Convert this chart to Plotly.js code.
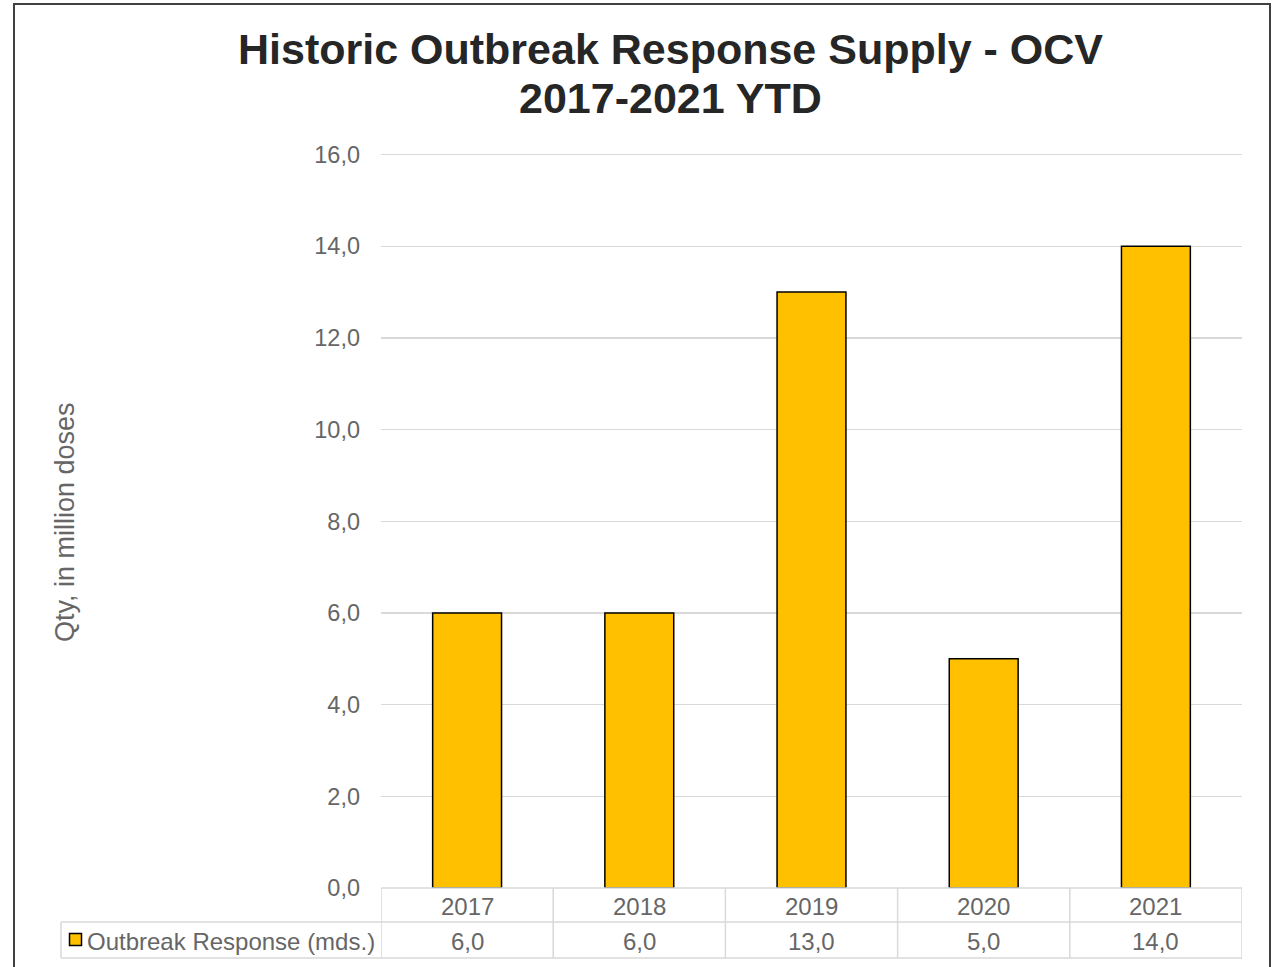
<!DOCTYPE html>
<html><head><meta charset="utf-8">
<script src="https://cdn.plot.ly/plotly-3.0.1.min.js"></script>
<style>html,body{margin:0;padding:0;background:#fff;}#chart{width:1281px;height:967px;}</style>
</head><body><div id="chart"></div>
<script>
const categories = ['2017','2018','2019','2020','2021'];
const values = [6, 6, 13, 5, 14];
const seriesName = 'Outbreak Response (mds.)';
const yTicks = [0,2,4,6,8,10,12,14,16];
const titleLines = ['Historic Outbreak Response Supply - OCV', '2017-2021 YTD'];
const yTitle = 'Qty, in million doses';

const fmt = v => v.toFixed(1).replace('.', ',');
const W = 1281, H = 967;
const L = 381, R = 1242, T = 150, B = 888;
const yMax = 16.1;
const px = x => (x - L) / (R - L);
const py = y => (B - y) / (B - T);
const grid = '#d9d9d9';
const gray = '#666666';
const FF = 'Liberation Sans, Arial, sans-serif';

const shapes = [];
const line = (x0,y0,x1,y1) => shapes.push({type:'line', xref:'paper', yref:'paper', x0, y0, x1, y1, line:{color:grid, width:1.5}, layer:'above'});
line(0, py(888), 1, py(888));
line(px(61), py(922), 1, py(922));
line(px(61), py(958), 1, py(958));
line(px(61), py(922), px(61), py(958));
for (let i = 0; i <= categories.length; i++) {
  shapes.push({type:'line', xref:'x', yref:'paper', x0:i-0.5, x1:i-0.5, y0:py(888), y1:py(958), line:{color:grid, width:1.5}});
}
shapes.push({type:'rect', xref:'paper', yref:'paper', x0:px(69.5), x1:px(81.5), y0:py(933.5), y1:py(945.5), fillcolor:'#FFC000', line:{color:'#000', width:1.5}});
shapes.push({type:'rect', xref:'paper', yref:'paper', x0:px(14), x1:px(1270), y0:py(4), y1:py(995), line:{color:'#404040', width:2}, fillcolor:'rgba(0,0,0,0)'});

const annotations = [];
categories.forEach((c,i) => {
  annotations.push({xref:'x', yref:'paper', x:i, y:py(906), text:c, showarrow:false, font:{family:FF, size:24, color:gray}, yanchor:'middle'});
  annotations.push({xref:'x', yref:'paper', x:i, y:py(941), text:fmt(values[i]), showarrow:false, font:{family:FF, size:24, color:gray}, yanchor:'middle'});
});
annotations.push({xref:'paper', yref:'paper', x:px(85), y:py(941), text:seriesName, showarrow:false, xanchor:'left', yanchor:'middle', font:{family:FF, size:24, color:gray}});
annotations.push({xref:'paper', yref:'paper', x:px(65), y:py(522), text:yTitle, textangle:-90, showarrow:false, xanchor:'center', yanchor:'middle', font:{family:FF, size:27, color:gray}});
annotations.push({xref:'paper', yref:'paper', x:px(670), y:py(49), text:'<b>'+titleLines[0]+'</b>', showarrow:false, xanchor:'center', yanchor:'middle', font:{family:FF, size:43, color:'#262626'}});
annotations.push({xref:'paper', yref:'paper', x:px(670), y:py(98), text:'<b>'+titleLines[1]+'</b>', showarrow:false, xanchor:'center', yanchor:'middle', font:{family:FF, size:43, color:'#262626'}});

const trace = {
  type:'bar', x:categories.map((c,i)=>i), y:values, name:seriesName,
  marker:{color:'#FFC000', line:{color:'#000', width:1.5}},
  hoverinfo:'none'
};

const layout = {
  width:W, height:H,
  margin:{l:L, r:W-R, t:T, b:H-B, pad:0},
  paper_bgcolor:'#fff', plot_bgcolor:'#fff',
  showlegend:false,
  bargap:0.6,
  separators:',.',
  xaxis:{range:[-0.5, 4.5], showticklabels:false, ticks:'', showgrid:false, zeroline:false, showline:false, fixedrange:true},
  yaxis:{range:[0,yMax], tickvals:yTicks, tickformat:'.1f', showgrid:true, gridcolor:grid, gridwidth:1.5, zeroline:false, showline:false,
    ticks:'', ticklabelstandoff:20,
    tickfont:{family:FF, size:23.5, color:gray}},
  shapes, annotations
};
Plotly.newPlot('chart', [trace], layout, {staticPlot:true, displayModeBar:false});
</script></body></html>
